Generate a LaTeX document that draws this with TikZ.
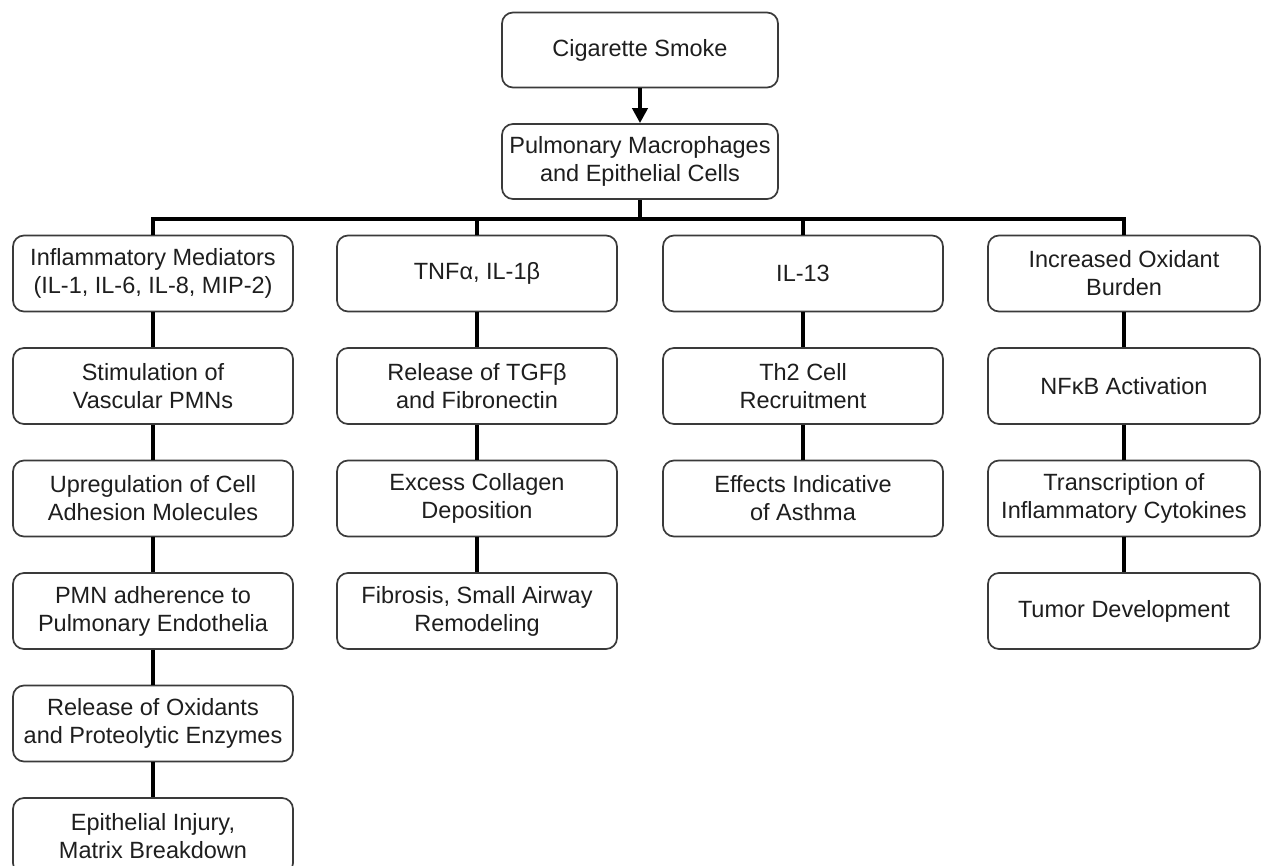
\documentclass[tikz,border=0pt]{standalone}
\usepackage{fontspec}
\setmainfont{Liberation Sans}
\usetikzlibrary{arrows.meta}
\definecolor{boxline}{HTML}{3A3A3A}
\definecolor{boxtext}{HTML}{1E1E1E}
\begin{document}
\begin{tikzpicture}[x=1pt,y=-1pt,
  box/.style={draw=boxline, line width=1.7pt, rounded corners=11pt,
    minimum width=280pt, minimum height=76pt, inner sep=0pt,
    align=center, text=boxtext, font=\fontsize{23.5}{28}\selectfont},
  link/.style={line width=4.6pt, draw=black},
]
\useasboundingbox (0,0) rectangle (1262,866);
\fill[white] (0,0) rectangle (1262,866);

% source and first target
\node[box, minimum width=276pt, minimum height=75pt] (smoke) at (640,50) {Cigarette Smoke};
\node[box, minimum width=276pt, minimum height=75pt] (pulm) at (640,161.5) {Pulmonary Macrophages\\and Epithelial Cells};
\draw[link, -{Triangle[length=15pt,width=15pt]}] (smoke) -- (pulm);

% column 1
\node[box] (a1) at (153,273.5) {Inflammatory Mediators\\(IL-1, IL-6, IL-8, MIP-2)};
\node[box] (a2) at (153,386) {Stimulation of\\Vascular PMNs};
\node[box] (a3) at (153,498.5) {Upregulation of Cell\\Adhesion Molecules};
\node[box] (a4) at (153,611) {PMN adherence to\\Pulmonary Endothelia};
\node[box] (a5) at (153,723.5) {Release of Oxidants\\and Proteolytic Enzymes};
\node[box] (a6) at (153,836) {Epithelial Injury,\\Matrix Breakdown};

% column 2
\node[box] (b1) at (477,273.5) {TNFα, IL-1β};
\node[box] (b2) at (477,386) {Release of TGFβ\\and Fibronectin};
\node[box] (b3) at (477,498.5) {Excess Collagen\\Deposition};
\node[box] (b4) at (477,611) {Fibrosis, Small Airway\\Remodeling};

% column 3
\node[box] (c1) at (803,273.5) {IL-13};
\node[box] (c2) at (803,386) {Th2 Cell\\Recruitment};
\node[box] (c3) at (803,498.5) {Effects Indicative\\of Asthma};

% column 4
\node[box, minimum width=272pt] (d1) at (1124,273.5) {Increased Oxidant\\Burden};
\node[box, minimum width=272pt] (d2) at (1124,386) {NFκB Activation};
\node[box, minimum width=272pt] (d3) at (1124,498.5) {Transcription of\\Inflammatory Cytokines};
\node[box, minimum width=272pt] (d4) at (1124,611) {Tumor Development};

% distribution bus
\coordinate (bus) at (640,219);
\draw[link] (pulm) -- (bus);
\draw[link] (a1) -- (a1.north |- bus) -- (d1.north |- bus) -- (d1);
\draw[link] (b1.north |- bus) -- (b1);
\draw[link] (c1.north |- bus) -- (c1);

% chains
\foreach \u/\v in {a1/a2,a2/a3,a3/a4,a4/a5,a5/a6,b1/b2,b2/b3,b3/b4,c1/c2,c2/c3,d1/d2,d2/d3,d3/d4}
  \draw[link] (\u) -- (\v);
\end{tikzpicture}
\end{document}
